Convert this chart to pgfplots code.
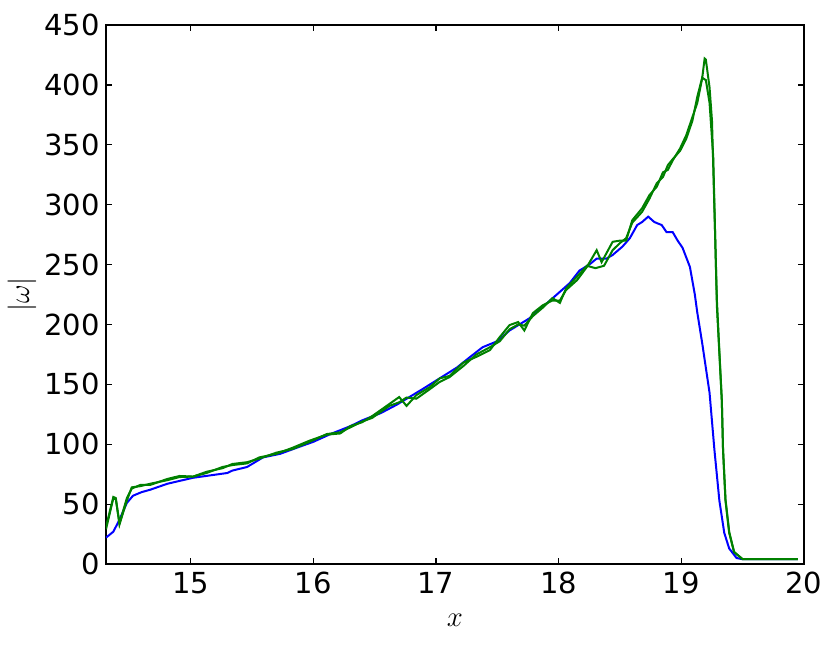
\documentclass[border=0pt]{standalone}
\usepackage{fontspec}
\setmainfont{DejaVu Sans}
\usepackage{pgfplots}
\pgfplotsset{compat=1.18}

\definecolor{mplblue}{rgb}{0,0,1}
\definecolor{mplgreen}{rgb}{0,0.5,0}

\begin{document}
\begin{tikzpicture}
\useasboundingbox (-53pt,-40.5pt) rectangle (362.5pt,282pt);
\begin{axis}[
    at={(0,0)}, anchor=south west,
    scale only axis,
    width=349pt, height=269.5pt,
    xmin=14.31, xmax=20,
    ymin=0, ymax=450,
    xtick={15,16,17,18,19,20},
    ytick={0,50,100,150,200,250,300,350,400,450},
    tick align=inside,
    tick pos=both,
    major tick length=3pt,
    every tick/.style={black, line width=0.6pt},
    axis line style={line width=0.8pt},
    /pgf/number format/assume math mode=true,
    every tick label/.append style={inner sep=0pt, font=\fontsize{14.5pt}{17pt}\selectfont},
    xticklabel style={yshift=-4pt},
    yticklabel style={xshift=-3pt},
    xlabel={$x$},
    ylabel={$|\omega|$},
    xlabel style={at={(axis description cs:0.5,0)}, anchor=center, yshift=-28pt, font=\fontsize{14pt}{17pt}\selectfont},
    ylabel style={at={(axis description cs:0,0.5)}, anchor=center, yshift=42pt, font=\fontsize{14pt}{17pt}\selectfont},
]
% blue series
\addplot[mplblue, line width=1pt] coordinates {
(14.31,22)(14.37,27)(14.42,37)(14.48,51)(14.53,57)(14.60,60)(14.67,62)(14.81,67)
(15.02,72)(15.30,76)(15.34,78)(15.46,81)(15.59,89)(15.73,92)(15.89,98)(16.00,102)
(16.14,108.5)(16.30,115)(16.40,120)(16.55,126)(16.68,133)(16.89,146)(17.03,155)
(17.17,164)(17.28,173)(17.38,181)(17.50,186)(17.60,195)(17.76,205)(17.93,220)
(18.09,234.5)(18.17,245)(18.25,250)(18.31,255)(18.39,255)(18.44,258)(18.52,265)
(18.58,272)(18.64,283)(18.68,285.5)(18.73,290)(18.78,285.5)(18.84,283)(18.88,277)
(18.93,277)(18.97,270)(19.01,264)(19.07,248)(19.11,225)(19.13,210)(19.17,184.5)
(19.23,143)(19.27,95)(19.31,53)(19.35,26)(19.39,13)(19.45,5)(19.50,4)(19.95,4)
};
% green series A
\addplot[mplgreen, line width=1pt] coordinates {
(14.31,31)(14.37,56)(14.39,55)(14.42,33)(14.48,53)(14.52,64)(14.59,65)(14.67,67)
(14.81,70)(14.91,72.6)(15.02,73)(15.13,76)(15.26,81)(15.34,82.6)(15.46,84)(15.56,89)
(15.70,92)(15.83,97)(15.97,103)(16.11,108)(16.22,109)(16.30,115)(16.40,118.5)
(16.48,123.5)(16.62,133.6)(16.70,139.4)(16.76,132)(16.84,141)(16.95,147.7)(17.03,155)
(17.11,157)(17.22,168)(17.33,173)(17.44,178.6)(17.52,189.5)(17.60,199.5)(17.67,202)
(17.72,195)(17.79,209.5)(17.87,216)(17.95,220)(18.01,220)(18.06,228.7)(18.15,237)
(18.23,248)(18.31,262)(18.35,252)(18.44,269)(18.50,270)(18.55,270)(18.60,287)
(18.68,297)(18.74,308)(18.80,315)(18.85,327)(18.89,329)(18.93,337)(18.99,347)
(19.04,358)(19.09,373)(19.13,385)(19.17,405.6)(19.19,422)(19.20,421)(19.23,398)
(19.25,370)(19.29,220)(19.31,178)(19.33,137)(19.34,95)(19.36,53)(19.39,26)(19.43,10)
(19.50,4)(19.95,4)
};
% green series B
\addplot[mplgreen, line width=1pt] coordinates {
(14.31,29)(14.37,55)(14.39,54)(14.42,34)(14.48,55)(14.52,63)(14.59,66)(14.67,66)
(14.81,71)(14.91,73.5)(15.02,73)(15.13,77)(15.26,80)(15.34,83.5)(15.46,85)(15.56,88)
(15.70,93)(15.83,96)(15.97,102)(16.11,108.5)(16.22,110)(16.30,114)(16.40,119)
(16.48,122)(16.62,132)(16.70,135)(16.76,139)(16.84,138)(16.95,146)(17.03,152)
(17.11,156)(17.22,165)(17.33,175)(17.44,181)(17.52,186)(17.60,196)(17.67,200)
(17.72,199)(17.79,207)(17.87,214)(17.95,222)(18.01,218)(18.06,230)(18.15,240)
(18.23,249)(18.30,247)(18.37,249)(18.44,262)(18.50,268)(18.55,272)(18.60,285)
(18.68,294)(18.74,305)(18.80,318)(18.85,323)(18.89,333)(18.93,338)(18.99,345)
(19.04,355)(19.09,370)(19.13,390)(19.17,406)(19.20,404)(19.23,385)(19.26,340)
(19.29,215)(19.31,176)(19.33,136)(19.34,96)(19.36,54)(19.39,27)(19.43,10)
(19.50,4)(19.95,4)
};
\end{axis}
\end{tikzpicture}
\end{document}
